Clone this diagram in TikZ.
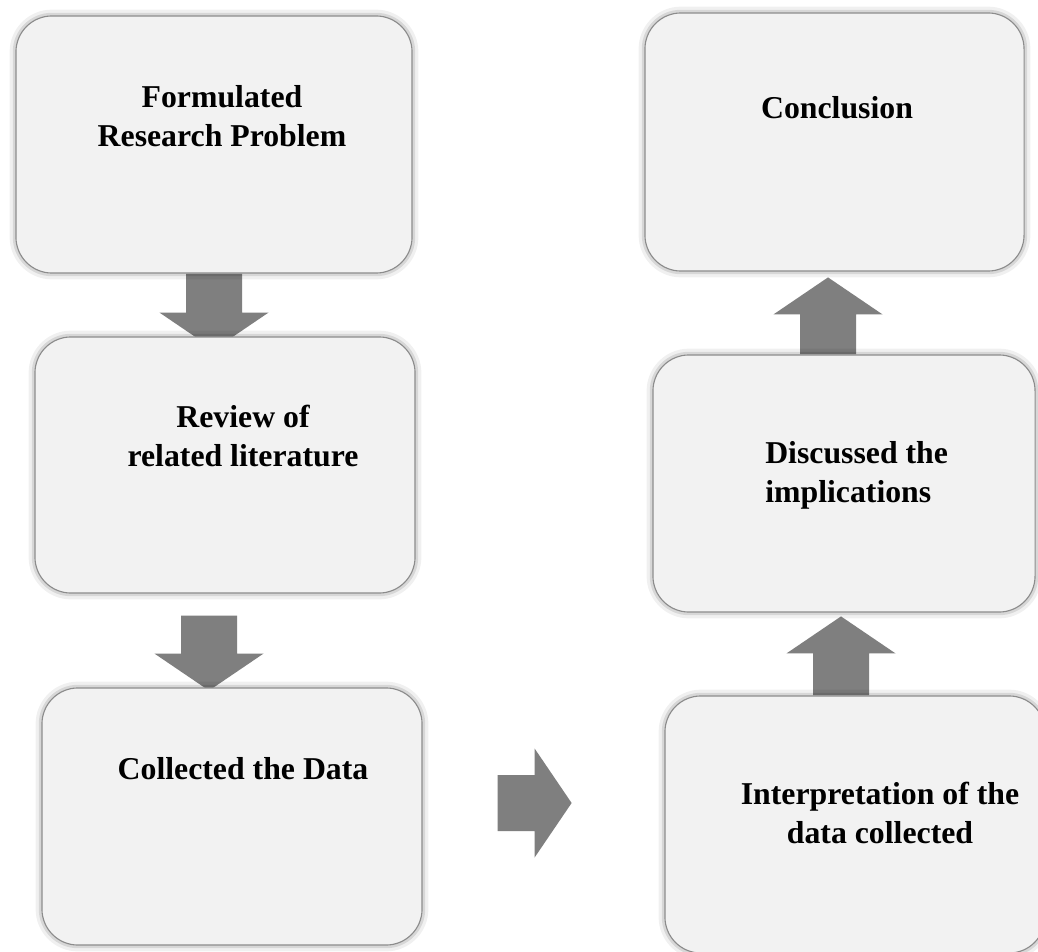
\documentclass[tikz,border=0pt]{standalone}
\usepackage{fontspec}
\setmainfont{Liberation Serif}
\usetikzlibrary{calc}

\definecolor{boxfill}{HTML}{F2F2F2}
\definecolor{arrowgray}{HTML}{7F7F7F}

\pgfdeclarelayer{bg}
\pgfsetlayers{bg,main}

\newcommand{\blockarrow}[3]{%
	\begin{scope}[shift={#1},rotate=#2]
		\fill[arrowgray] (0,-28) -- (#3-37,-28) -- (#3-37,-54.5) -- (#3,0) -- (#3-37,54.5) -- (#3-37,28) -- (0,28) -- cycle;
	\end{scope}}

\begin{document}
\begin{tikzpicture}[x=0.025cm,y=-0.025cm,
	stepbox/.style={draw=black!45,line width=0.8pt,fill=boxfill,rounded corners=0.9cm,
		preaction={draw=black,opacity=0.06,line width=9pt},
		preaction={draw=black,opacity=0.1,line width=4.5pt}},
	steplabel/.style={inner sep=0pt,align=center,font=\fontsize{22.6}{27.7}\selectfont\bfseries}]
		\clip (0,0) rectangle (1038,952);
		\begin{pgfonlayer}{bg}
			\fill[white] (0,0) rectangle (1038,952);
		\end{pgfonlayer}
		
		\node[stepbox,minimum width=9.9cm,minimum height=6.425cm] (formulate) at (214,144.5) {};
		\node[steplabel] (formulatetext) at (222,116.5) {Formulated\\Research Problem};
		
		\node[stepbox,minimum width=9.5cm,minimum height=6.4cm] (review) at (225,465) {};
		\node[steplabel] (reviewtext) at (243,436) {Review of\\related literature};
		
		\node[stepbox,minimum width=9.5cm,minimum height=6.425cm] (collect) at (232,816.5) {};
		\node[steplabel] (collecttext) at (243,768.5) {Collected the Data};
		
		\node[stepbox,minimum width=9.475cm,minimum height=6.45cm] (conclude) at (834.5,142) {};
		\node[steplabel] (concludetext) at (837,108) {Conclusion};
		
		\node[stepbox,minimum width=9.55cm,minimum height=6.425cm] (discuss) at (844,483.5) {};
		\node[steplabel,align=left,anchor=west] (discusstext) at (765,475) {Discussed the\\implications};
		
		\node[stepbox,minimum width=9.5cm,minimum height=6.425cm] (interpret) at (855,824.5) {};
		\node[steplabel] (interprettext) at (880,813) {Interpretation of the\\data collected};
		
		\begin{pgfonlayer}{bg}
			\blockarrow{(formulate.south)}{-90}{76}
			\blockarrow{($(review.south)+(-16,22)$)}{-90}{75}
			\blockarrow{($(collect.east)+(75,-13.5)$)}{0}{74}
			\blockarrow{($(interpret.north)+(-14,0)$)}{90}{79}
			\blockarrow{($(discuss.north)+(-16,0)$)}{90}{77}
		\end{pgfonlayer}
\end{tikzpicture}
\end{document}
